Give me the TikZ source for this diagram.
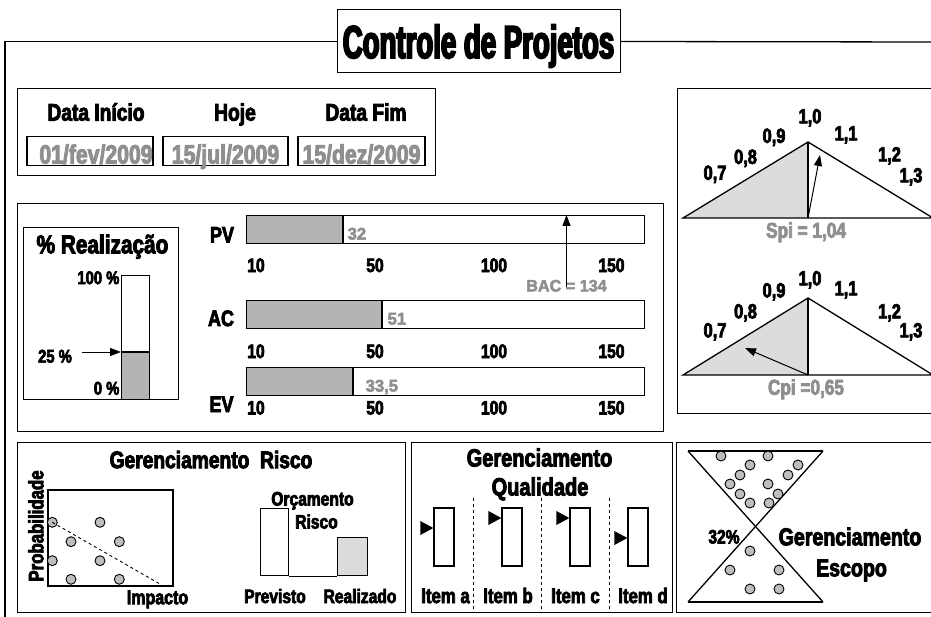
\documentclass[tikz,border=0pt]{standalone}
\usepackage{fontspec}
\newfontfamily\impfont{Liberation Sans}[FakeStretch=0.8,FakeBold=3.5]
\newfontfamily\grayfont{Liberation Sans}[FakeStretch=0.98,FakeBold=3]
\newfontfamily\titlefont{Liberation Sans}[FakeStretch=0.6,FakeBold=4]
\usetikzlibrary{arrows.meta}
\definecolor{txtgray}{HTML}{8F8F8F}
\definecolor{bargray}{HTML}{B4B4B4}
\definecolor{palegray}{HTML}{DCDCDC}
\definecolor{circgray}{HTML}{BEBEBE}
\tikzset{
  lbl/.style={inner sep=0pt, text height=0.72*#1pt, text depth=0pt,
              font=\impfont\bfseries\fontsize{#1}{#1}\selectfont},
  lbl/.default=20,
  gval/.style={lbl=#1, text=txtgray},
  gnum/.style={inner sep=0pt, text height=0.72*#1pt, text depth=0pt, text=txtgray,
               font=\grayfont\bfseries\fontsize{#1}{#1}\selectfont},
  caixa/.style={draw, inner sep=0pt, anchor=north west},
  bola/.style={circle, draw, fill=circgray, inner sep=0pt, minimum size=10pt, line width=0.9pt},
  pointer/.style={-{Triangle[length=11pt,width=8pt]}, line width=1pt},
  marca/.style={fill=black}
}
\begin{document}
\begin{tikzpicture}[x=1pt,y=-1pt,line width=1.3pt]
\useasboundingbox (0,0) rectangle (931,617);

% moldura e titulo
\node[draw, line width=1pt, minimum width=283pt, minimum height=63pt, inner sep=0pt,
      text height=33pt, text depth=0pt,
      font=\titlefont\bfseries\fontsize{46}{46}\selectfont] (titulo) at (478.5,41.5) {Controle de Projetos};
\coordinate (cantoL) at (5,617);
\coordinate (cantoR) at (931,42);
\draw (cantoL) |- (titulo.west);
\draw (titulo.east) -- (cantoR);

% datas
\node[caixa, minimum width=418pt, minimum height=87pt] (datas) at (17,88) {};
\node[lbl=24] (dIni) at (96,112) {Data Início};
\node[lbl=24] (hoje) at (235,112) {Hoje};
\node[lbl=24] (dFim) at (366,112) {Data Fim};
\node[caixa, minimum width=126pt, minimum height=29pt, anchor=center] (vIni) at (90,151) {};
\node[caixa, minimum width=125pt, minimum height=29pt, anchor=center] (vHoje) at (225.5,151) {};
\node[caixa, minimum width=127pt, minimum height=29pt, anchor=center] (vFim) at (361.5,151) {};
\node[gval=26.5] at (96,154) {01/fev/2009};
\node[gval=26.5] at (225.5,154) {15/jul/2009};
\node[gval=26.5] at (361.5,154) {15/dez/2009};

% indices spi e cpi
\node[caixa, minimum width=260pt, minimum height=325pt] (indices) at (677,88) {};
\coordinate (s0) at (683,218); \coordinate (s1) at (808,142);
\coordinate (s2) at (808,218); \coordinate (s3) at (933,218);
\fill[palegray] (s0) -- (s1) -- (s2) -- cycle;
\draw[line join=miter] (s0) -- (s1) -- (s3) -- cycle;
\draw (s1) -- (s2);
\coordinate (spiPonta) at (820,155);
\draw[pointer] (s2) -- (spiPonta);
\node[lbl=20.5] at (715,172.5) {0,7};
\node[lbl=20.5] at (745.5,156.5) {0,8};
\node[lbl=20.5] at (774,135.5) {0,9};
\node[lbl=20.5] at (810,116) {1,0};
\node[lbl=20.5] at (846,133) {1,1};
\node[lbl=20.5] at (889.5,154) {1,2};
\node[lbl=20.5] at (911,175) {1,3};
\node[gval=21.5] (spi) at (806,230) {Spi = 1,04};

\coordinate (c0) at (683,375); \coordinate (c1) at (808,298);
\coordinate (c2) at (808,375); \coordinate (c3) at (933,375);
\fill[palegray] (c0) -- (c1) -- (c2) -- cycle;
\draw[line join=miter] (c0) -- (c1) -- (c3) -- cycle;
\draw (c1) -- (c2);
\coordinate (cpiPonta) at (745,348);
\draw[pointer] (c2) -- (cpiPonta);
\node[lbl=20.5] at (715,330) {0,7};
\node[lbl=20.5] at (745.5,311) {0,8};
\node[lbl=20.5] at (774,290) {0,9};
\node[lbl=20.5] at (810,278) {1,0};
\node[lbl=20.5] at (846,288) {1,1};
\node[lbl=20.5] at (889.5,311) {1,2};
\node[lbl=20.5] at (911,330) {1,3};
\node[gval=21.5] (cpi) at (806,387) {Cpi =0,65};

% valores pv, ac, ev
\node[caixa, minimum width=646pt, minimum height=228pt] (medicao) at (17,203) {};
\node[caixa, minimum width=155pt, minimum height=172pt] (realiz) at (23,227) {};
\node[lbl=26] (realizT) at (102.5,244) {\% Realização};
\fill[bargray] (121,352) rectangle (149,399);
\node[caixa, minimum width=28pt, minimum height=124pt] (barra) at (121,275) {};
\draw (121,352) -- (149,352);
\node[lbl=18.5, anchor=east] (p100) at (120,277.5) {100 \%};
\node[lbl=18.5] (p25) at (55,356) {25 \%};
\node[lbl=18.5, anchor=east] (p0) at (120,388) {0 \%};
\coordinate (seta25) at (82,352);
\draw[pointer] (seta25) -- (barra.west |- seta25);

\node[lbl=22.5] (pv) at (222,234.5) {PV};
\node[lbl=22.5] (ac) at (221,318) {AC};
\node[lbl=22.5] (ev) at (221.5,404) {EV};
\foreach \nome/\y/\v/\dx/\val/\ty in {pv/215/343/4/32/265, ac/300/382/5/51/351, ev/367/353/12/{33,5}/407.5}{
  \fill[bargray] (246,\y) rectangle (\v,\y+28);
  \node[caixa, minimum width=398pt, minimum height=28pt] (\nome bar) at (246,\y) {};
  \draw (\v,\y) -- (\v,\y+28);
  \node[gnum=17, anchor=west] (\nome val) at (\v+\dx,\y+18.5) {\val};
  \foreach \t/\tx in {10/256,50/375,100/494,150/611.5}
    \node[lbl=19.5] at (\tx,\ty) {\t};
}
\node[gnum=16.5] (bac) at (566.5,285.5) {BAC = 134};
\draw[pointer] ([yshift=-8pt]bac.north) -- (bac.north |- pvbar.north);

% gerenciamento risco
\node[caixa, minimum width=388pt, minimum height=170pt] (risco) at (17,442) {};
\node[lbl=24] (riscoT) at (211,459.5) {Gerenciamento\ \ Risco};
\node[caixa, minimum width=125pt, minimum height=96pt] (mapa) at (47.3,489.3) {};
\node[lbl=21, rotate=90] (prob) at (35.8,526) {Probabilidade};
\node[lbl=20] (imp) at (157.5,597) {Impacto};
\foreach \n/\x/\y in {1/52.3/522.3, 2/100/522.3, 3/71/541.7, 4/119.3/541.7,
                      5/52.3/560.7, 6/100/560.7, 7/71/579.3, 8/119.3/579.3}
  \node[bola] (r\n) at (\x,\y) {};
\coordinate (riscoFim) at (161.7,585);
\draw[dashed, line width=0.9pt] (r1.center) -- (riscoFim);
\node[caixa, minimum width=28pt, minimum height=67pt] (prev) at (260,508) {};
\node[caixa, minimum width=30pt, minimum height=38pt, fill=palegray] (real) at (337,537) {};
\draw (prev.south east) -- (real.south west);
\node[lbl=19.5] (orc) at (312.5,498.5) {Orçamento};
\node[lbl=19.5] (orcR) at (316.5,521.5) {Risco};
\node[lbl=19.5] (prevT) at (275,596) {Previsto};
\node[lbl=19.5] (realT) at (360,596) {Realizado};

% gerenciamento qualidade
\node[caixa, minimum width=261pt, minimum height=170pt] (qual) at (411,442) {};
\node[lbl=25] (qualT) at (539.5,457.5) {Gerenciamento};
\node[lbl=25] (qualT2) at (540,486.5) {Qualidade};
\foreach \x in {473,541,609}
  \draw[dashed, line width=0.9pt] (\x,498) -- (qual.south -| \x,0);
\foreach \n/\x/\y/\lx in {a/444/528/445.5, b/512/518/508, c/580/518/575.5, d/638/538/643}{
  \node[draw, inner sep=0pt, minimum width=20pt, minimum height=58pt] (item\n) at (\x,537) {};
  \fill[marca] (item\n.west |- 0,\y) -- ++(-13,-7) -- ++(0,14) -- cycle;
  \node[lbl=21] (item\n T) at (\lx,595.5) {Item \n};
}

% gerenciamento escopo
\node[caixa, minimum width=262pt, minimum height=170pt] (escopo) at (676,442) {};
\coordinate (h1) at (688,451); \coordinate (h2) at (823,451);
\coordinate (h3) at (688,602); \coordinate (h4) at (823,602);
\draw (h1) -- (h2);
\draw (h3) -- (h4);
\draw (h1) -- (h4);
\draw (h2) -- (h3);
\foreach \x/\y in {721/456, 768/456, 750/465, 798/465, 740/475, 788/475, 730/484, 768/484,
                   740/494, 778/494, 750/503, 769/503, 750/551, 730/570, 779/570, 750/589, 779/589}
  \node[bola] at (\x,\y) {};
\node[lbl=19.5] (pct) at (724,536.5) {32\%};
\node[lbl=24.5] (escopoT) at (850,536.5) {Gerenciamento};
\node[lbl=24.5] (escopoT2) at (851.5,567.5) {Escopo};
\end{tikzpicture}
\end{document}
